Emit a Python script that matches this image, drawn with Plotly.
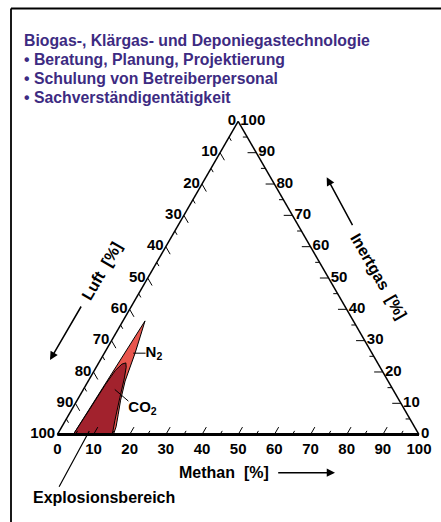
import plotly.graph_objects as go

# ---------------- data ----------------
# Explosion range boundaries: Methan [%] and Inertgas [%]; Luft [%] is the rest to 100
n2_methan = [4.4, 6.1, 7.3, 8.5, 10.2, 12.0, 13.6, 15.0, 15.5, 4.4]
n2_inert = [0.0, 36.3, 31.2, 26.0, 17.1, 11.0, 6.5, 2.5, 0.0, 0.0]

co2_methan = [4.4, 4.9, 5.3, 5.8, 6.6, 7.5, 8.3, 9.5, 11.4, 13.7, 15.2, 4.4]
co2_inert = [0.0, 8.0, 16.0, 20.5, 22.5, 22.9, 21.5, 18.1, 11.8, 4.4, 0.0, 0.0]

# leader lines for the gas labels (Methan, Inertgas)
n2_label_methan = [8.0, 11.4]
n2_label_inert = [26.0, 26.0]
co2_label_methan = [8.7, 14.3]
co2_label_inert = [14.4, 10.7]

# scale
scale_values = [0, 5, 10, 15, 20, 25, 30, 35, 40, 45, 50,
                55, 60, 65, 70, 75, 80, 85, 90, 95, 100]
label_values = [0, 10, 20, 30, 40, 50, 60, 70, 80, 90, 100]

title_lines = [
    "Biogas-, Klärgas- und Deponiegastechnologie",
    "• Beratung, Planung, Projektierung",
    "• Schulung von Betreiberpersonal",
    "• Sachverständigentätigkeit",
]

FONT = "Liberation Sans, Arial, Helvetica, sans-serif"
PURPLE = "#3d2b82"
N2_COLOR = "#e8564e"
CO2_COLOR = "#a2222d"


def rest(m, i):
    return [None if (a is None) else 100 - a - b for a, b in zip(m, i)]


fig = go.Figure()

# explosion regions
fig.add_trace(go.Scatterternary(
    a=n2_inert, b=rest(n2_methan, n2_inert), c=n2_methan,
    mode="lines", fill="toself", fillcolor=N2_COLOR,
    line=dict(color="black", width=1), hoverinfo="skip"))
fig.add_trace(go.Scatterternary(
    a=co2_inert, b=rest(co2_methan, co2_inert), c=co2_methan,
    mode="lines", fill="toself", fillcolor=CO2_COLOR,
    line=dict(color="black", width=1), hoverinfo="skip"))

# labels with leader lines
fig.add_trace(go.Scatterternary(
    a=n2_label_inert, b=rest(n2_label_methan, n2_label_inert), c=n2_label_methan,
    mode="lines+text", text=["", "N<sub>2</sub>"], textposition="middle right",
    textfont=dict(family=FONT, size=15, color="black", weight="bold"),
    line=dict(color="black", width=1), hoverinfo="skip", cliponaxis=False))
fig.add_trace(go.Scatterternary(
    a=co2_label_inert, b=rest(co2_label_methan, co2_label_inert), c=co2_label_methan,
    mode="lines+text", text=["", "CO<sub>2</sub>"], textposition="bottom right",
    textfont=dict(family=FONT, size=15, color="black", weight="bold"),
    line=dict(color="black", width=1), hoverinfo="skip", cliponaxis=False))

# tick marks drawn along the grid directions (inside the triangle)
ta, tb, tc = [], [], []
for v in scale_values:
    if v in (0, 100):
        continue
    ln = 2.4 if v in label_values else 1.2
    # bottom edge: Methan = v
    ta += [0, ln, None]; tc += [v, v, None]; tb += [100 - v, 100 - v - ln, None]
    # right edge: Inertgas = v
    ta += [v, v, None]; tc += [100 - v, 100 - v - ln, None]; tb += [0, ln, None]
    # left edge: Luft = v
    ta += [100 - v, 100 - v - ln, None]; tc += [0, ln, None]; tb += [v, v, None]
fig.add_trace(go.Scatterternary(a=ta, b=tb, c=tc, mode="lines",
                                line=dict(color="black", width=1),
                                hoverinfo="skip", connectgaps=False))


# axis tick labels: each edge shows the component that grows towards its end corner
def tick_text(vals):
    return [str(100 - v) if (100 - v) in label_values else "" for v in vals]


axis_common = dict(
    tickmode="array", tickvals=scale_values, ticks="", showgrid=False,
    linecolor="black", showline=True,
    tickfont=dict(family=FONT, size=15, color="black", weight="bold"),
    title=dict(text=""), min=0,
)

fig.update_layout(
    width=441, height=522,
    margin=dict(l=0, r=0, t=0, b=0),
    paper_bgcolor="white",
    showlegend=False,
    ternary=dict(
        sum=100,
        bgcolor="white",
        domain=dict(x=[57.3 / 441, 419 / 441], y=[0.46743 - 0.3161, 0.46743 + 0.3161]),
        aaxis=dict(axis_common, ticktext=tick_text(scale_values), linewidth=1.5),
        baxis=dict(axis_common, ticktext=tick_text(scale_values), linewidth=3),
        caxis=dict(axis_common, ticktext=tick_text(scale_values), linewidth=1.5),
    ),
)

W, H = 441.0, 522.0


def px(x):
    return x / W


def py(y):
    return 1 - y / H


annotations = []
# header text
for line, yc in zip(title_lines, [40.5, 59.5, 78.5, 97]):
    annotations.append(dict(
        x=px(22), y=py(yc), xref="paper", yref="paper", xanchor="left", yanchor="middle",
        text=line, showarrow=False,
        font=dict(family=FONT, size=15.8, color=PURPLE, weight="bold")))

# axis titles
title_font = dict(family=FONT, size=16, color="black", weight="bold")
centered = dict(xref="paper", yref="paper", xanchor="center", yanchor="middle", showarrow=False)
annotations.append(dict(centered, x=px(224), y=py(472.5), text="Methan  [%]", font=title_font))
annotations.append(dict(centered, x=px(101.5), y=py(271.5), text="Luft  [%]", textangle=-60,
                        font=title_font))
annotations.append(dict(centered, x=px(379), y=py(276), text="Inertgas  [%]", textangle=60,
                        font=title_font))

# direction arrows
arrow_style = dict(xref="paper", yref="paper", text="", showarrow=True,
                   arrowhead=2, arrowsize=1.1, arrowwidth=1.5, arrowcolor="black")
annotations.append(dict(arrow_style, x=px(335), y=py(472.7), ax=-58.3, ay=0))
annotations.append(dict(arrow_style, x=px(50), y=py(360), ax=32, ay=-55))
annotations.append(dict(arrow_style, x=px(326.7), y=py(177.3), ax=26.6, ay=49.4))

# Explosionsbereich label with leader line
annotations.append(dict(x=px(89.3), y=py(431), xref="paper", yref="paper", text="",
                        showarrow=True, arrowhead=0, arrowwidth=1.2, arrowcolor="black",
                        ax=-31, ay=57.3))
annotations.append(dict(centered, x=px(104), y=py(497), text="Explosionsbereich",
                        font=dict(family=FONT, size=16, color="black", weight="bold")))

fig.update_layout(annotations=annotations)

# frame (top and left border)
fig.add_shape(type="line", xref="paper", yref="paper", x0=px(11), x1=1.0, y0=py(8.5), y1=py(8.5),
              line=dict(color="black", width=1.8))
fig.add_shape(type="line", xref="paper", yref="paper", x0=px(11), x1=px(11), y0=py(8.5), y1=0.0,
              line=dict(color="black", width=1.8))

fig.write_html("out.html",
               config={"displayModeBar": False, "staticPlot": True},
               post_script="document.body.style.margin='0';document.body.style.overflow='hidden';")
